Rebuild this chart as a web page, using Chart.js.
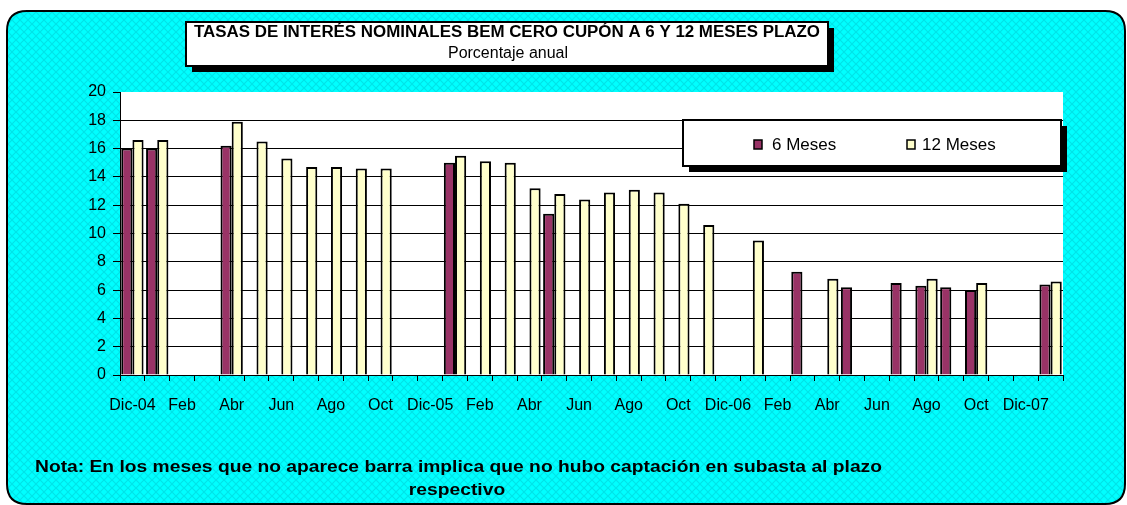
<!DOCTYPE html>
<html>
<head>
<meta charset="utf-8">
<script src="https://cdn.jsdelivr.net/npm/chart.js@4.4.1/dist/chart.umd.min.js"></script>
<style>
  html, body { margin: 0; padding: 0; background: #ffffff; }
  canvas { display: block; }
</style>
</head>
<body>
<canvas id="chart" width="1127" height="505"></canvas>
<script>
// Monthly auction months, Dec-2004 to Jan-2008
const months = ['Dic-04','Ene-05','Feb-05','Mar-05','Abr-05','May-05','Jun-05','Jul-05','Ago-05','Sep-05','Oct-05','Nov-05',
                'Dic-05','Ene-06','Feb-06','Mar-06','Abr-06','May-06','Jun-06','Jul-06','Ago-06','Sep-06','Oct-06','Nov-06',
                'Dic-06','Ene-07','Feb-07','Mar-07','Abr-07','May-07','Jun-07','Jul-07','Ago-07','Sep-07','Oct-07','Nov-07',
                'Dic-07','Ene-08'];

// Axis labels shown every second month
const tickLabels = ['Dic-04','','Feb','','Abr','','Jun','','Ago','','Oct','',
                    'Dic-05','','Feb','','Abr','','Jun','','Ago','','Oct','',
                    'Dic-06','','Feb','','Abr','','Jun','','Ago','','Oct','',
                    'Dic-07',''];

// Nominal rates (% annual); null = no placement that month
const rate6m = [16.0, 16.0, null, null, 16.2, null, null, null, null, null, null, null,
                null, 15.0, null, null, null, 11.4, null, null, null, null, null, null,
                null, null, null, 7.3, null, 6.2, null, 6.5, 6.3, 6.2, 6.0, null,
                null, 6.4];
const rate12m = [16.6, 16.6, null, null, 17.9, 16.5, 15.3, 14.7, 14.7, 14.6, 14.6, null,
                 null, 15.5, 15.1, 15.0, 13.2, 12.8, 12.4, 12.9, 13.1, 12.9, 12.1, 10.6,
                 null, 9.5, null, null, 6.8, null, null, null, 6.8, null, 6.5, null,
                 null, 6.6];

const yTicks = [0, 2, 4, 6, 8, 10, 12, 14, 16, 18, 20];

const titleText = 'TASAS DE INTERÉS NOMINALES BEM CERO CUPÓN A 6 Y 12 MESES PLAZO';
const subtitleText = 'Porcentaje anual';
const noteLines = ['Nota: En los meses que no aparece barra implica que no hubo captación en subasta al plazo', 'respectivo'];

const FONT = '"Liberation Sans", Arial, Helvetica, sans-serif';

// Cyan crosshatch fill for the chart frame
function makeHatch() {
  const c = document.createElement('canvas');
  c.width = 8; c.height = 8;
  const g = c.getContext('2d');
  g.fillStyle = '#00FFFF';
  g.fillRect(0, 0, 8, 8);
  g.strokeStyle = 'rgba(0,130,150,0.22)';
  g.lineWidth = 1.2;
  g.beginPath();
  g.moveTo(0, 0); g.lineTo(8, 8);
  g.moveTo(8, 0); g.lineTo(0, 8);
  g.stroke();
  return g.createPattern(c, 'repeat');
}

function roundRect(ctx, x, y, w, h, r) {
  ctx.beginPath();
  ctx.moveTo(x + r, y);
  ctx.lineTo(x + w - r, y);
  ctx.quadraticCurveTo(x + w, y, x + w, y + r);
  ctx.lineTo(x + w, y + h - r);
  ctx.quadraticCurveTo(x + w, y + h, x + w - r, y + h);
  ctx.lineTo(x + r, y + h);
  ctx.quadraticCurveTo(x, y + h, x, y + h - r);
  ctx.lineTo(x, y + r);
  ctx.quadraticCurveTo(x, y, x + r, y);
  ctx.closePath();
}

function shadowBox(ctx, x, y, w, h, off) {
  ctx.fillStyle = '#000';
  ctx.fillRect(x + off, y + off, w, h);
  ctx.fillStyle = '#fff';
  ctx.fillRect(x, y, w, h);
  ctx.strokeStyle = '#000';
  ctx.lineWidth = 2;
  ctx.strokeRect(x, y, w, h);
}

// Text stretched horizontally to span a given width
function fitText(ctx, text, x, y, width, align) {
  const w = ctx.measureText(text).width;
  const k = width / w;
  ctx.save();
  ctx.textAlign = 'left';
  const x0 = align === 'center' ? x - width / 2 : x;
  ctx.translate(x0, y);
  ctx.scale(k, 1);
  ctx.fillText(text, 0, 0);
  ctx.restore();
}

const framePlugin = {
  id: 'frame',
  beforeDraw(chart) {
    const ctx = chart.ctx;
    const a = chart.chartArea;
    ctx.save();
    ctx.fillStyle = '#fff';
    ctx.fillRect(0, 0, chart.width, chart.height);
    roundRect(ctx, 7, 11, 1118, 493, 20);
    ctx.fillStyle = makeHatch();
    ctx.fill();
    ctx.lineWidth = 2;
    ctx.strokeStyle = '#000';
    ctx.stroke();
    // white plot area
    ctx.fillStyle = '#fff';
    ctx.fillRect(a.left, a.top, a.right - a.left, a.bottom - a.top);
    ctx.restore();
  },
  afterDraw(chart) {
    const ctx = chart.ctx;
    ctx.save();
    // title box
    shadowBox(ctx, 186, 22, 642, 44, 6);
    ctx.fillStyle = '#000';
    ctx.textBaseline = 'middle';
    ctx.font = 'bold 16px ' + FONT;
    fitText(ctx, titleText, 507, 33, 626, 'center');
    ctx.font = '16px ' + FONT;
    ctx.textAlign = 'center';
    ctx.fillText(subtitleText, 508, 54);

    // legend box
    shadowBox(ctx, 683, 120, 378, 46, 6);
    const entries = [[754, 772], [907, 922]];
    chart.data.datasets.forEach((ds, i) => {
      const [mx, tx] = entries[i];
      ctx.fillStyle = ds.backgroundColor;
      ctx.fillRect(mx, 140, 8, 9);
      ctx.strokeStyle = '#000';
      ctx.lineWidth = 1.5;
      ctx.strokeRect(mx, 140, 8, 9);
      ctx.fillStyle = '#000';
      ctx.textAlign = 'left';
      ctx.font = '17px ' + FONT;
      ctx.fillText(ds.label, tx, 145);
    });

    // note
    ctx.font = 'bold 17px ' + FONT;
    fitText(ctx, noteLines[0], 35, 467, 847, 'left');
    const rw = ctx.measureText(noteLines[1]).width * (847 / ctx.measureText(noteLines[0]).width);
    fitText(ctx, noteLines[1], 457, 490, rw, 'center');
    ctx.restore();
  }
};

new Chart(document.getElementById('chart'), {
  type: 'bar',
  data: {
    labels: months,
    datasets: [
      { label: '6 Meses', data: rate6m, backgroundColor: '#993366', borderColor: '#000', borderWidth: 2,
        categoryPercentage: 0.9, barPercentage: 1.0 },
      { label: '12 Meses', data: rate12m, backgroundColor: '#FFFFCC', borderColor: '#000', borderWidth: 2,
        categoryPercentage: 0.9, barPercentage: 1.0 }
    ]
  },
  options: {
    responsive: false,
    animation: false,
    devicePixelRatio: 1,
    layout: { padding: { left: 0, right: 64, top: 92, bottom: 80 } },
    plugins: {
      legend: { display: false },
      tooltip: { enabled: false },
      title: { display: false }
    },
    scales: {
      x: {
        offset: true,
        grid: { display: true, drawOnChartArea: false, offset: true, tickLength: 6, color: '#000', tickColor: '#000' },
        border: { display: true, color: '#000', width: 1 },
        ticks: {
          autoSkip: false, maxRotation: 0, minRotation: 0,
          color: '#000', font: { family: FONT, size: 16 }, padding: 15,
          callback: (v, i) => tickLabels[i]
        },
        afterFit: s => { s.height = 50; }
      },
      y: {
        min: 0, max: 20,
        afterBuildTicks: s => { s.ticks = yTicks.map(v => ({ value: v })); },
        grid: {
          color: c => (c.tick && c.tick.value === 20) ? 'rgba(0,0,0,0)' : '#000',
          tickColor: '#000', tickLength: 7, lineWidth: 1
        },
        border: { display: true, color: '#000', width: 1 },
        ticks: { color: '#000', font: { family: FONT, size: 16 }, padding: 7 },
        afterFit: s => { s.width = 120; }
      }
    }
  },
  plugins: [framePlugin]
});
</script>
</body>
</html>
